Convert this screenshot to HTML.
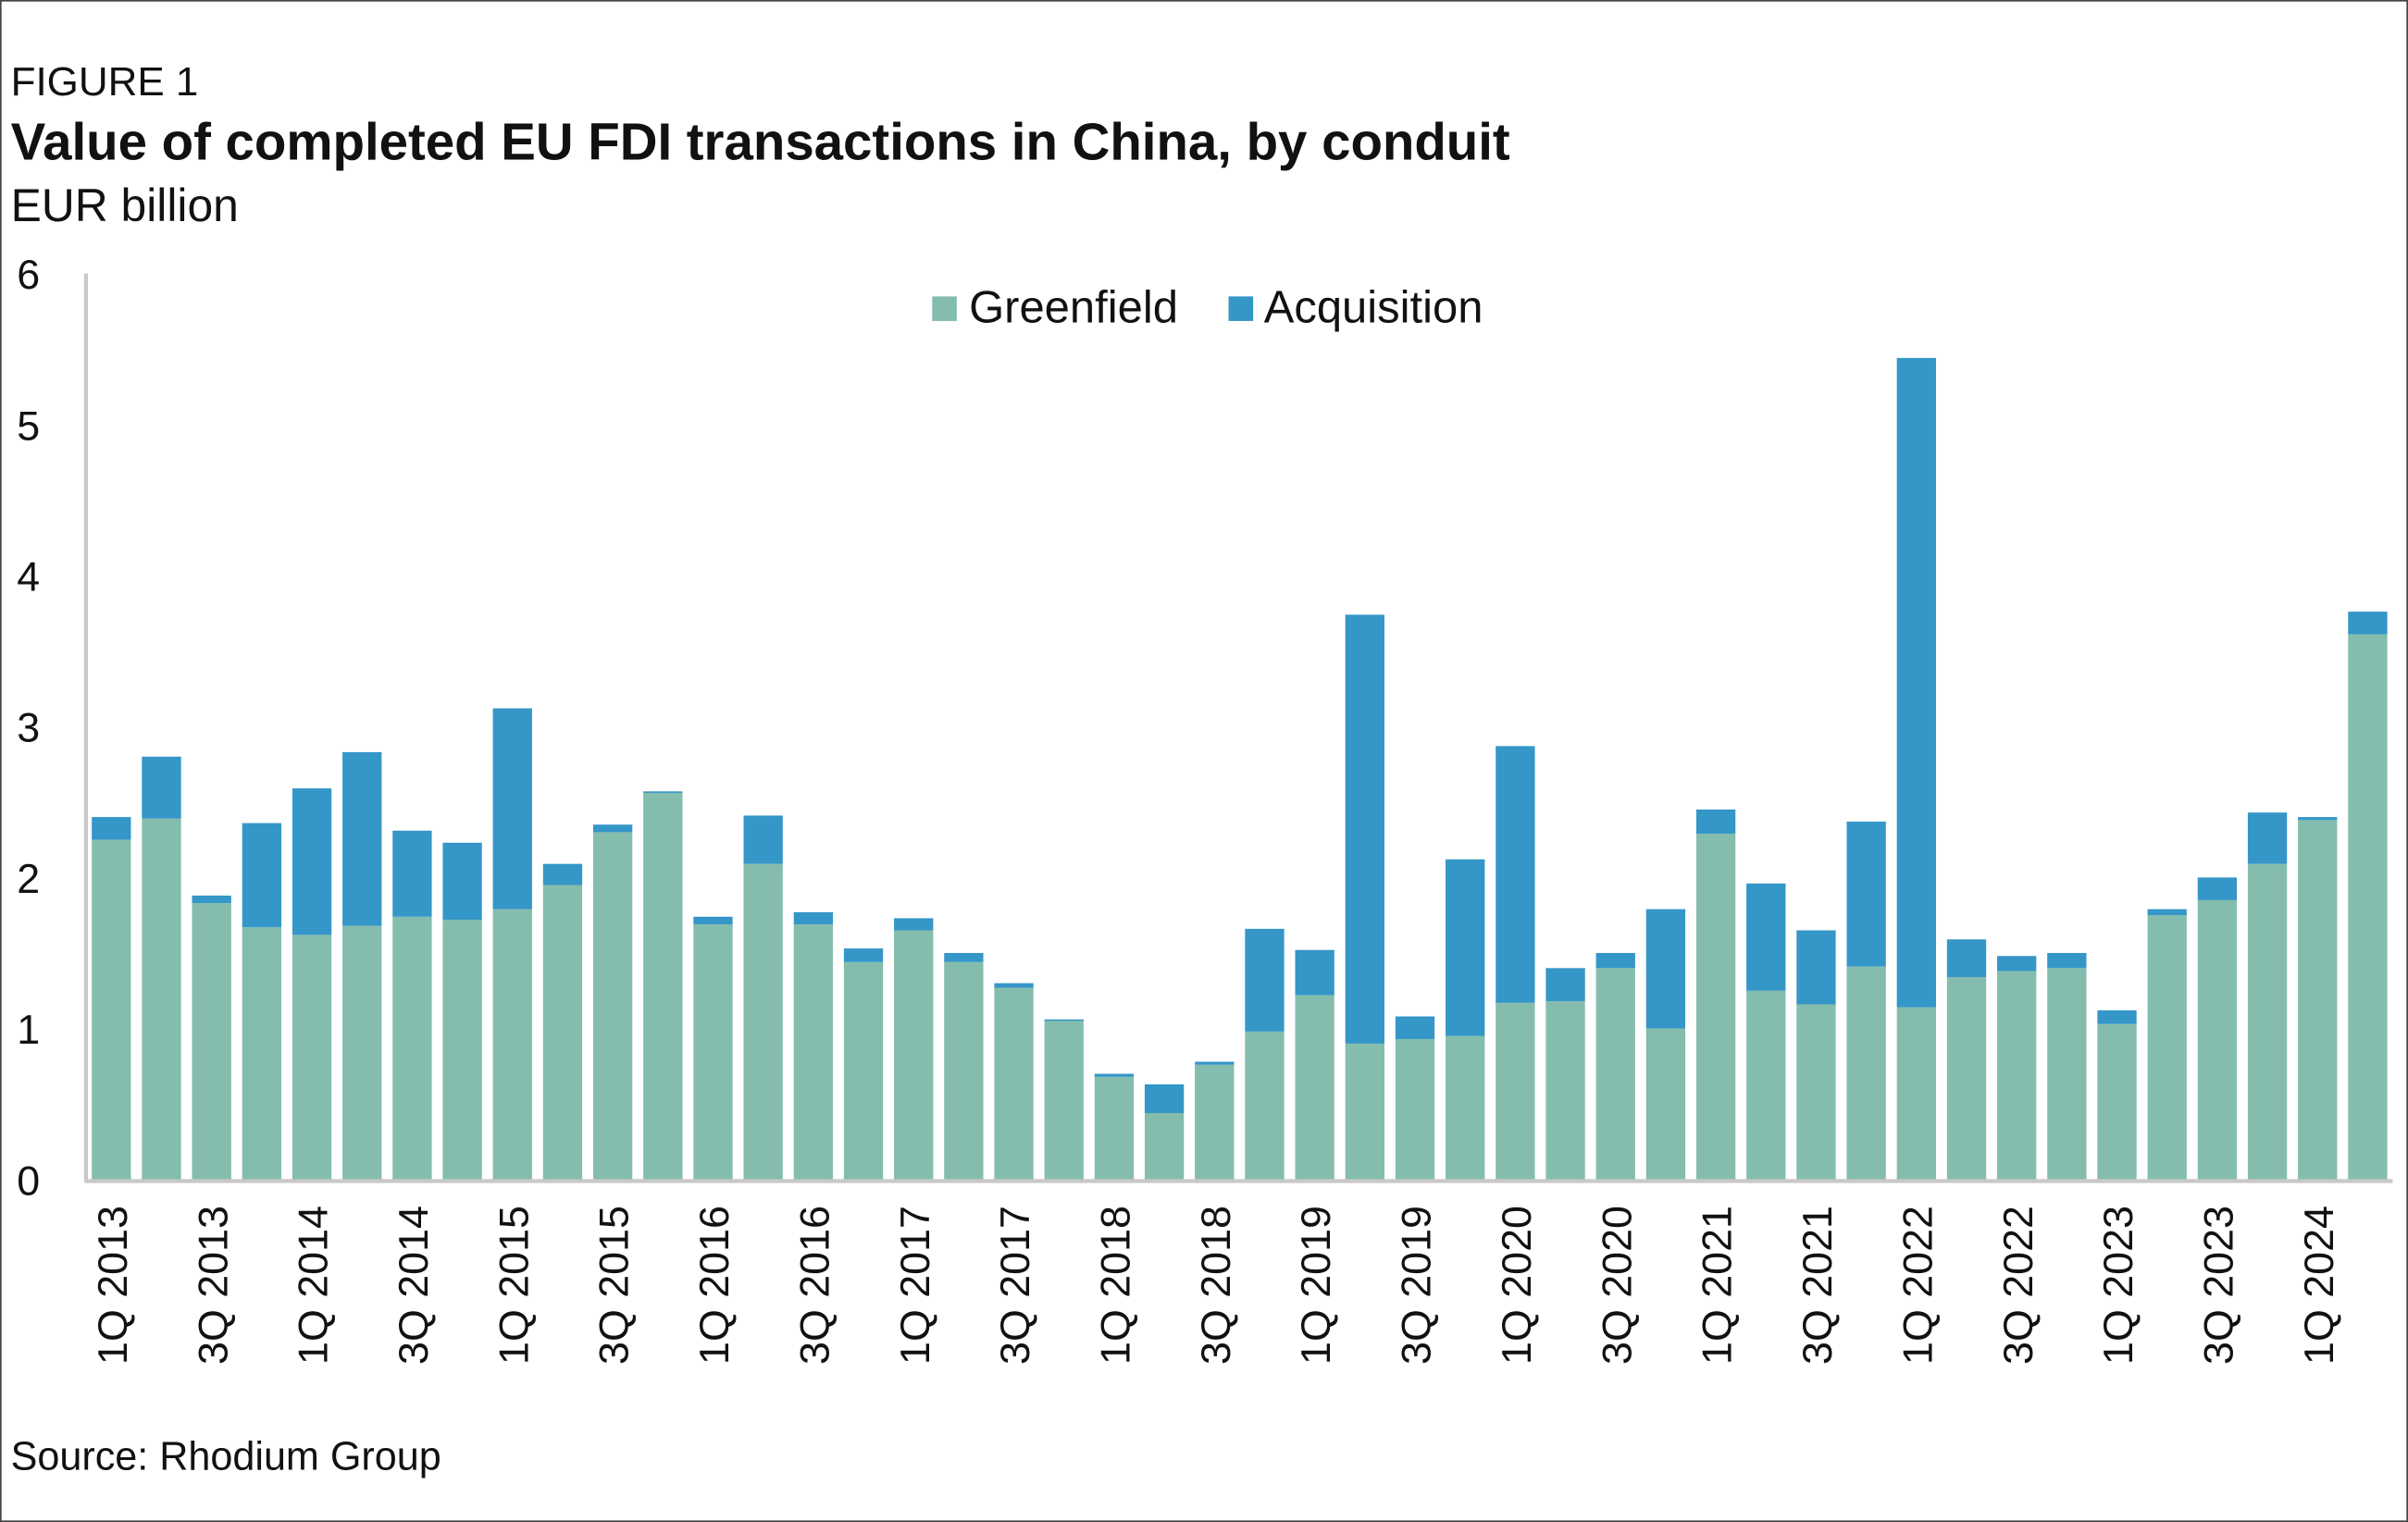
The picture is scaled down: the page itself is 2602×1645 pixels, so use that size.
<!DOCTYPE html>
<html><head><meta charset="utf-8"><style>
html,body{margin:0;padding:0;background:#fff}
svg{display:block;font-family:"Liberation Sans",sans-serif}
</style></head><body>
<svg id="chart" width="2602" height="1645" viewBox="0 0 1568 991" preserveAspectRatio="none" xmlns="http://www.w3.org/2000/svg">
<rect x="0.5" y="0.5" width="1567" height="990" fill="#fff" stroke="#444" stroke-width="1"/>
<text x="7" y="62" font-size="26.5" fill="#111">FIGURE 1</text>
<text x="7" y="104" font-size="34" font-weight="bold" fill="#111">Value of completed EU FDI transactions in China, by conduit</text>
<text x="7" y="144" font-size="30" fill="#111">EUR billion</text>
<text x="7" y="957" font-size="26" fill="#111">Source: Rhodium Group</text>
<g>
<rect x="607" y="193" width="16" height="16" fill="#84BDAD"/>
<text x="631" y="210" font-size="29.5" fill="#111">Greenfield</text>
<rect x="800" y="193" width="16" height="16" fill="#3596C8"/>
<text x="823" y="210" font-size="29.5" fill="#111">Acquisition</text>
</g>
<g id="bars"></g>
<g id="axes"></g>
</svg>
<script>
const quarters = ["1Q 2013","2Q 2013","3Q 2013","4Q 2013","1Q 2014","2Q 2014","3Q 2014","4Q 2014","1Q 2015","2Q 2015","3Q 2015","4Q 2015","1Q 2016","2Q 2016","3Q 2016","4Q 2016","1Q 2017","2Q 2017","3Q 2017","4Q 2017","1Q 2018","2Q 2018","3Q 2018","4Q 2018","1Q 2019","2Q 2019","3Q 2019","4Q 2019","1Q 2020","2Q 2020","3Q 2020","4Q 2020","1Q 2021","2Q 2021","3Q 2021","4Q 2021","1Q 2022","2Q 2022","3Q 2022","4Q 2022","1Q 2023","2Q 2023","3Q 2023","4Q 2023","1Q 2024","2Q 2024"];
const greenfield = [2.25,2.39,1.83,1.67,1.62,1.68,1.74,1.72,1.79,1.95,2.30,2.56,1.69,2.09,1.69,1.44,1.65,1.44,1.27,1.05,0.68,0.44,0.76,0.98,1.22,0.90,0.93,0.95,1.17,1.18,1.40,1.00,2.29,1.25,1.16,1.41,1.14,1.34,1.38,1.40,1.03,1.75,1.85,2.09,2.38,3.61];
const acquisition = [0.15,0.41,0.05,0.69,0.97,1.15,0.57,0.51,1.33,0.14,0.05,0.01,0.05,0.32,0.08,0.09,0.08,0.06,0.03,0.01,0.02,0.19,0.02,0.68,0.30,2.84,0.15,1.17,1.70,0.22,0.10,0.79,0.16,0.71,0.49,0.96,4.30,0.25,0.10,0.10,0.09,0.04,0.15,0.34,0.02,0.15];
const yTicks = [0,1,2,3,4,5,6];

const NS="http://www.w3.org/2000/svg";
const x0=58, step=32.65, bw=25.5, yBase=768, yTop=178, yMax=6;
const y = v => yBase - v/yMax*(yBase-yTop);
const xc = i => x0 + 14.5 + i*step;
const bars=document.getElementById('bars'), axes=document.getElementById('axes');
function mk(tag,attrs,parent){const e=document.createElementNS(NS,tag);for(const k in attrs)e.setAttribute(k,attrs[k]);parent.appendChild(e);return e;}
quarters.forEach((q,i)=>{
  const g=greenfield[i], a=acquisition[i];
  const r1=mk('rect',{x:xc(i)-bw/2,y:y(g),width:bw,height:yBase-y(g),fill:'#84BDAD'},bars);
  
  
  const r2=mk('rect',{x:xc(i)-bw/2,y:y(g+a),width:bw,height:y(g)-y(g+a),fill:'#3596C8'},bars);
  
  
  if(i%2===0){
    const t=mk('text',{x:0,y:0,'font-size':27,fill:'#111','text-anchor':'end',transform:`translate(${xc(i)+10},785) rotate(-90)`},axes);
    t.textContent=q;
    
    
  }
});
yTicks.forEach(v=>{
  const t=mk('text',{x:11,y:y(v)+10,'font-size':27,fill:'#111'},axes);
  t.textContent=v;
  
  
});
const yl=mk('line',{x1:56,y1:yTop,x2:56,y2:yBase+1,stroke:'#c8c8c8','stroke-width':2.5},axes);


const xl=mk('line',{x1:55,y1:yBase+1,x2:1558,y2:yBase+1,stroke:'#c8c8c8','stroke-width':2.5},axes);


</script>
</body></html>
